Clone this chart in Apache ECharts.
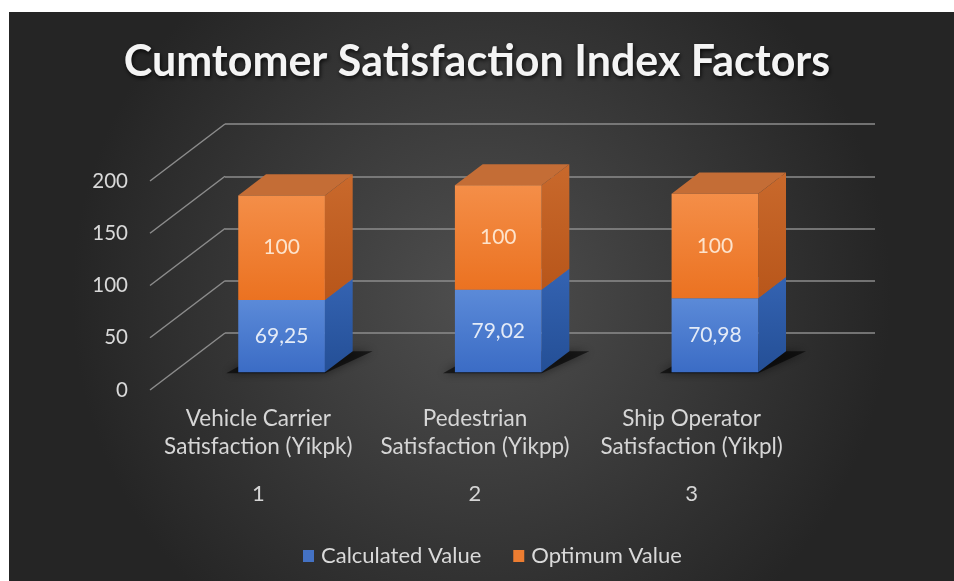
<!DOCTYPE html>
<html>
<head>
<meta charset="utf-8">
<script src="https://cdn.jsdelivr.net/npm/echarts@6/dist/echarts.min.js"></script>
<style>html,body{margin:0;padding:0;background:#fff;}#c{width:954px;height:581px;}</style>
</head>
<body>
<div id="c"></div>
<script>
const titleText = 'Cumtomer Satisfaction Index Factors';
const categories = ['Vehicle Carrier\nSatisfaction (Yikpk)', 'Pedestrian\nSatisfaction (Yikpp)', 'Ship Operator\nSatisfaction (Yikpl)'];
const categoryNumbers = ['1', '2', '3'];
const seriesNames = ['Calculated Value', 'Optimum Value'];
const calculatedValues = [69.25, 79.02, 70.98];
const optimumValues = [100, 100, 100];
const yTicks = [0, 50, 100, 150, 200];

// oblique projection: offset of the front edge relative to the back wall
const DX = 75, DY = 57;
const FRONT = 0.69, BACK = 0.32;

const palette = {
  calc: { front: ['#5b8ad8', '#3b6cc5'], side: ['#3463b2', '#244f96'], top: '#4a78c6', label: '#e4ebf7', legend: '#4472c4' },
  opt: { front: ['#f48e48', '#eb7221'], side: ['#c9692c', '#b8561a'], top: '#c46d36', label: '#fde3cc', legend: '#ed7d31' }
};

function fmt(v) { return Number.isInteger(v) ? String(v) : v.toFixed(2).replace('.', ','); }

function barRenderer(pal, withShadow) {
  return function (params, api) {
    const cat = api.value(0), base = api.value(1), val = api.value(2);
    const cx = api.coord([cat, 0])[0];
    const band = api.size([1, 0])[0];
    const w = band * 0.4;
    const yb0 = api.coord([cat, base])[1];
    const yt0 = api.coord([cat, base + val])[1];
    const fx = -DX * FRONT, fy = DY * FRONT;
    const bx = -DX * BACK, by = DY * BACK;
    const x0 = cx + fx - w / 2, x1 = cx + fx + w / 2;
    const yb = yb0 + fy, yt = yt0 + fy;
    const ddx = bx - fx, ddy = by - fy;
    const children = [];
    if (withShadow) {
      children.push({
        type: 'polygon', z2: 0,
        shape: { points: [[x0 - 12, yb + 1], [x1, yb + 1], [x1 + ddx + 20, yb + ddy], [x0 + ddx, yb + ddy]] },
        style: { fill: 'rgba(0,0,0,0.6)', shadowBlur: 10, shadowColor: 'rgba(0,0,0,0.8)' }
      });
    }
    children.push({
      type: 'polygon', z2: 1,
      shape: { points: [[x1, yt], [x1 + ddx, yt + ddy], [x1 + ddx, yb + ddy], [x1, yb]] },
      style: { fill: new echarts.graphic.LinearGradient(0, 0, 0, 1, [{ offset: 0, color: pal.side[0] }, { offset: 1, color: pal.side[1] }]) }
    });
    children.push({
      type: 'polygon', z2: 1,
      shape: { points: [[x0, yt], [x0 + ddx, yt + ddy], [x1 + ddx, yt + ddy], [x1, yt]] },
      style: { fill: pal.top }
    });
    children.push({
      type: 'rect', z2: 2,
      shape: { x: x0, y: yt, width: w, height: yb - yt },
      style: { fill: new echarts.graphic.LinearGradient(0, 0, 0, 1, [{ offset: 0, color: pal.front[0] }, { offset: 1, color: pal.front[1] }]) }
    });
    children.push({
      type: 'text', z2: 3,
      style: { text: fmt(val), x: (x0 + x1) / 2, y: (yt + yb) / 2, align: 'center', verticalAlign: 'middle', fill: pal.label, font: '21px Lato' }
    });
    return { type: 'group', children: children };
  };
}

const chart = echarts.init(document.getElementById('c'), null, { renderer: 'canvas' });
chart.setOption({
  backgroundColor: '#ffffff',
  animation: false,
  graphic: [{
    type: 'rect', z: -10, silent: true,
    shape: { x: 9, y: 12, width: 945, height: 569 },
    style: { fill: new echarts.graphic.RadialGradient(0.5, 0.5, 0.72, [{ offset: 0, color: '#4f4f4f' }, { offset: 1, color: '#252525' }]) }
  }],
  title: {
    text: titleText, left: 'center', top: 36,
    textStyle: { color: '#f4f4f4', fontFamily: 'Lato', fontWeight: 'bold', fontSize: 43, textShadowColor: 'rgba(0,0,0,0.8)', textShadowBlur: 4, textShadowOffsetX: 1, textShadowOffsetY: 2 }
  },
  legend: {
    data: seriesNames, left: 298, top: 540, icon: 'rect', itemWidth: 11, itemHeight: 12, itemGap: 32,
    textStyle: { color: '#d9d9d9', fontFamily: 'Lato', fontSize: 22, padding: [0, 0, 0, 2] }
  },
  grid: [
    { left: 225, top: 124, width: 650, height: 209 },
    { left: 150, top: 181, width: 650, height: 209 }
  ],
  xAxis: [
    { type: 'category', gridIndex: 0, data: categories, show: false },
    {
      type: 'category', gridIndex: 1, data: categories,
      axisLine: { show: false }, axisTick: { show: false },
      axisLabel: {
        margin: 15, interval: 0,
        formatter: function (value, idx) {
          const parts = value.split('\n');
          return '{a|' + parts[0] + '}\n{a|' + parts[1] + '}\n{n|' + categoryNumbers[idx] + '}';
        },
        rich: {
          a: { color: '#d6d6d6', fontFamily: 'Lato', fontSize: 22.5, lineHeight: 28 },
          n: { color: '#d6d6d6', fontFamily: 'Lato', fontSize: 22, lineHeight: 66 }
        }
      }
    }
  ],
  yAxis: [
    {
      type: 'value', gridIndex: 0, min: 0, max: 200, interval: 50,
      axisLine: { show: false }, axisTick: { show: false }, axisLabel: { show: false },
      splitLine: { show: true, lineStyle: { color: '#8c8c8c', width: 1.5 } }
    },
    {
      type: 'value', gridIndex: 1, min: 0, max: 200, interval: 50,
      axisLine: { show: false }, axisTick: { show: false }, splitLine: { show: false },
      axisLabel: { margin: 22, color: '#d9d9d9', fontFamily: 'Lato', fontSize: 20.5 }
    }
  ],
  series: [
    {
      type: 'custom', name: 'depthLines', xAxisIndex: 0, yAxisIndex: 0, z: 1, silent: true,
      data: yTicks.map(v => [0, v]),
      encode: { x: 0, y: 1 },
      renderItem: function (params, api) {
        const y = api.coord([0, api.value(1)])[1];
        const x = params.coordSys.x;
        return { type: 'line', shape: { x1: x, y1: y, x2: x - DX, y2: y + DY }, style: { stroke: '#8c8c8c', lineWidth: 1.5 } };
      }
    },
    {
      type: 'custom', name: seriesNames[0], xAxisIndex: 0, yAxisIndex: 0, z: 3,
      itemStyle: { color: palette.calc.legend },
      data: calculatedValues.map((v, i) => [i, 0, v]),
      encode: { x: 0, y: [1, 2] },
      renderItem: barRenderer(palette.calc, true)
    },
    {
      type: 'custom', name: seriesNames[1], xAxisIndex: 0, yAxisIndex: 0, z: 4,
      itemStyle: { color: palette.opt.legend },
      data: optimumValues.map((v, i) => [i, calculatedValues[i], v]),
      encode: { x: 0, y: [1, 2] },
      renderItem: barRenderer(palette.opt, false)
    }
  ]
});
</script>
</body>
</html>
